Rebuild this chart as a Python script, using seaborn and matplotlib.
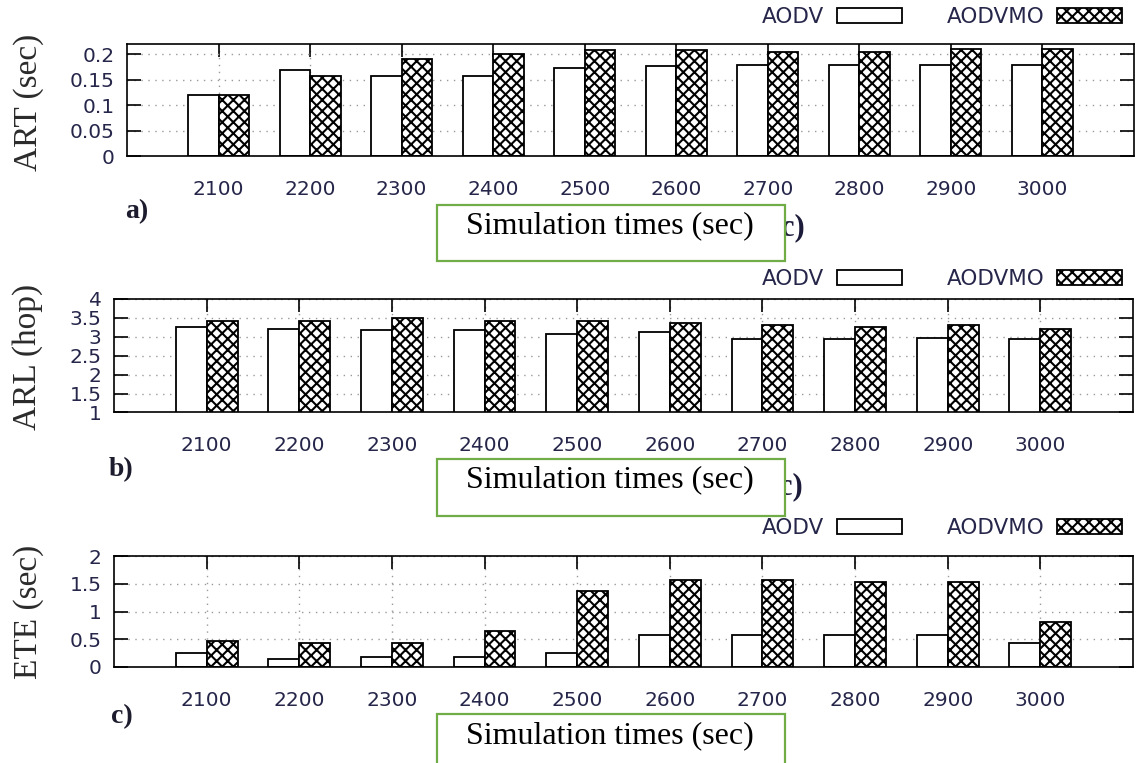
import numpy as np
import pandas as pd
import seaborn as sns
import matplotlib.pyplot as plt
from matplotlib.patches import Patch, Rectangle
from matplotlib.ticker import FuncFormatter

times = ["2100", "2200", "2300", "2400", "2500", "2600", "2700", "2800", "2900", "3000"]
protocols = ["AODV", "AODVMO"]

art_aodv = [0.120, 0.169, 0.158, 0.158, 0.173, 0.176, 0.179, 0.179, 0.179, 0.179]
art_aodvmo = [0.120, 0.158, 0.191, 0.201, 0.208, 0.208, 0.204, 0.204, 0.211, 0.211]
arl_aodv = [3.26, 3.22, 3.17, 3.17, 3.08, 3.125, 2.94, 2.93, 2.98, 2.94]
arl_aodvmo = [3.41, 3.41, 3.49, 3.41, 3.41, 3.37, 3.32, 3.27, 3.32, 3.22]
ete_aodv = [0.247, 0.153, 0.182, 0.182, 0.247, 0.571, 0.571, 0.571, 0.571, 0.435]
ete_aodvmo = [0.465, 0.435, 0.435, 0.653, 1.376, 1.559, 1.559, 1.535, 1.535, 0.812]

ylabels = ["ART (sec)", "ARL (hop)", "ETE (sec)"]
yticks_all = [[0, 0.05, 0.1, 0.15, 0.2], [1, 1.5, 2, 2.5, 3, 3.5, 4], [0, 0.5, 1, 1.5, 2]]
ylims = [(0, 0.22), (1, 4), (0, 2)]
panel_tags = ["a)", "b)", "c)"]
xlabel = "Simulation times (sec)"

plt.rcParams["hatch.linewidth"] = 1.5
W, H = 1140, 763
fig = plt.figure(figsize=(11.4, 7.63), dpi=100)

def fx(px):
    return px / W

def fy(py):
    return 1 - py / H

# pixel boxes: left, top, right, bottom
ax_boxes = [(127, 44, 1134, 156), (114, 299, 1133, 412.5), (114, 556, 1133, 667)]
tick_col = "#26264a"

series = [(art_aodv, art_aodvmo), (arl_aodv, arl_aodvmo), (ete_aodv, ete_aodvmo)]
ylab_pos = [(29, 102), (28, 357), (29, 612)]
tag_pos = [(137, 212), (121, 470), (122, 717)]
legend_y = [17, 279, 528]
green_boxes = [(437, 205, 785, 261), (437, 459, 785, 516), (437, 714, 785, 770)]
text_y = [226, 480, 736]
stray_c = [(781, 228), (779, 487), None]

for i in range(3):
    l, t, r, b = ax_boxes[i]
    ax = fig.add_axes([fx(l), fy(b), (r - l) / W, (b - t) / H])
    a, m = series[i]
    df = pd.DataFrame({
        "time": times * 2,
        "value": a + m,
        "protocol": ["AODV"] * len(times) + ["AODVMO"] * len(times),
    })
    sns.barplot(data=df, x="time", y="value", hue="protocol", hue_order=protocols,
                palette={"AODV": "white", "AODVMO": "white"}, edgecolor="black",
                linewidth=1.3, width=2 / 3, errorbar=None, legend=False, ax=ax,
                zorder=3)
    for bar in ax.containers[1]:
        bar.set_hatch("xxx")
    ax.set_xlim(-1, 10)
    ax.set_ylim(*ylims[i])
    ax.set_yticks(yticks_all[i])
    ax.yaxis.set_major_formatter(FuncFormatter(lambda v, p: "%g" % v))
    ax.set_xlabel("")
    ax.set_ylabel("")
    ax.grid(True, color="#9a9a9a", linestyle=(0, (1, 4)), linewidth=1, zorder=0)
    ax.set_axisbelow(True)
    for s in ax.spines.values():
        s.set_linewidth(1.2)
        s.set_color("black")
        s.set_zorder(5)
    ax.tick_params(axis="y", direction="in", left=True, right=True, length=10,
                   width=1.2, labelsize=14.5, labelcolor=tick_col, pad=9)
    ax.tick_params(axis="x", direction="in", top=True, bottom=True, length=9,
                   width=1.2, labelsize=14.5, labelcolor=tick_col, pad=17)

    handles = [Patch(facecolor="white", edgecolor="black", linewidth=1.3),
               Patch(facecolor="white", edgecolor="black", linewidth=1.3, hatch="xxx")]
    ax.legend(handles, protocols, ncol=2, markerfirst=False, frameon=False,
              loc="center right", bbox_to_anchor=(fx(1122), fy(legend_y[i])),
              bbox_transform=fig.transFigure, borderaxespad=0, borderpad=0,
              fontsize=15.5, labelcolor=tick_col, handlelength=3.0,
              handleheight=0.7, handletextpad=0.6, columnspacing=2.1)

    fig.text(fx(ylab_pos[i][0]), fy(ylab_pos[i][1]), ylabels[i], rotation=90,
             ha="center", va="center", family="Liberation Serif", fontsize=24,
             color="#2b2b2b")
    fig.text(fx(tag_pos[i][0]), fy(tag_pos[i][1]), panel_tags[i], ha="center",
             va="center", family="Liberation Serif", fontweight="bold",
             fontsize=20, color="#1c1c2e")

    if stray_c[i] is not None:
        fig.text(fx(stray_c[i][0]), fy(stray_c[i][1]), "c)", ha="left", va="center",
                 family="Liberation Serif", fontweight="bold", fontsize=22,
                 color="#1c1c3a", zorder=2)
    gl, gt, gr, gb = green_boxes[i]
    fig.add_artist(Rectangle((fx(gl), fy(gb)), (gr - gl) / W, (gb - gt) / H,
                             transform=fig.transFigure, facecolor="white",
                             edgecolor="#70ad47", linewidth=1.6, zorder=4,
                             clip_on=False))
    fig.text(fx(610), fy(text_y[i]), xlabel, ha="center", va="center",
             family="Liberation Serif", fontsize=23, color="black", zorder=6)

fig.savefig("out.png", dpi=100)
